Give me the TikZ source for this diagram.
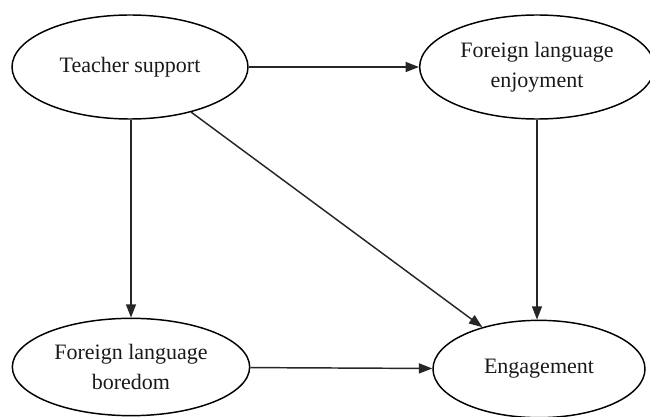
\documentclass[tikz,border=0pt]{standalone}
\usepackage{fontspec}
\setmainfont{Liberation Serif}
\usetikzlibrary{shapes.geometric,arrows.meta}

\tikzset{
	construct/.style={draw, ellipse, line width=1.1pt, inner sep=0pt, align=center,
		font=\fontsize{16.5}{22.5}\selectfont, text=black!90},
	path/.style={-{Triangle[length=10pt,width=7.5pt]}, line width=1.1pt, draw=black!85}
}

\begin{document}
\begin{tikzpicture}[x=0.75pt, y=-0.75pt]
	\useasboundingbox (0,0) rectangle (650,417);
	\node[construct, minimum width=177pt, minimum height=78pt] at (130,67) (TS) {Teacher support};
	\node[construct, minimum width=176pt, minimum height=78pt] at (537,67) (FLE) {Foreign language\\enjoyment};
	\node[construct, minimum width=178pt, minimum height=73pt] at (131,367) (FLB) {Foreign language\\boredom};
	\node[construct, minimum width=159pt, minimum height=73pt] at (539,369) (ENG) {Engagement};
	\draw[path] (TS.south -| FLB) -- (FLB);
	\draw[path] (TS) -- (FLE);
	\draw[path] (TS) -- (ENG);
	\draw[path] (FLE) -- (FLE |- ENG.north);
	\draw[path] (FLB) -- (ENG);
\end{tikzpicture}
\end{document}
